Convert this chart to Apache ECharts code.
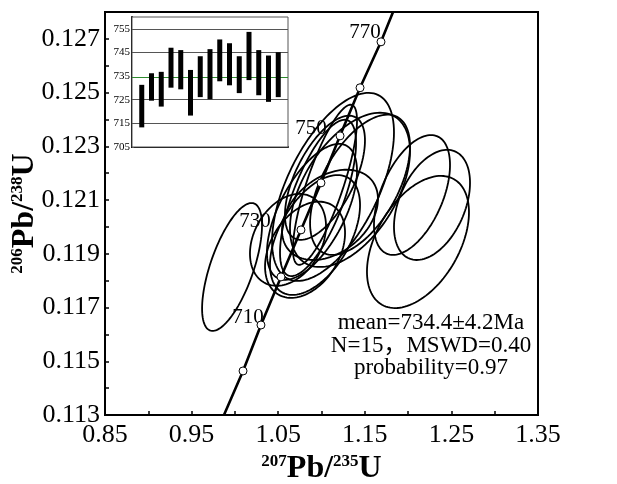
<!DOCTYPE html>
<html>
<head>
<meta charset="utf-8">
<script src="https://cdn.jsdelivr.net/npm/echarts@6/dist/echarts.min.js"></script>
<style>
  html, body { margin: 0; padding: 0; background: #fff; }
  #main { width: 617px; height: 484px; }
</style>
</head>
<body>
<div id="main"></div>
<script>
// concordia curve: marker ages and where they sit on the plot
const concordiaAges = [700, 710, 720, 730, 740, 750, 760, 770];
const concordiaX = [1.0094, 1.0301, 1.0532, 1.0763, 1.0994, 1.1214, 1.1445, 1.1687];
const concordiaY = [0.11464, 0.11635, 0.11814, 0.11989, 0.12164, 0.12339, 0.12518, 0.12689];
const concordiaStart = [0.9874, 0.113];
const concordiaEnd = [1.1826, 0.128];
const labelledAges = [710, 730, 750, 770];

// error ellipses (207Pb/235U, 206Pb/238U, sigma x, sigma y, rho)
const ellCx  = [0.9967, 1.0613, 1.1133, 1.1329, 1.1040, 1.0960, 1.1040, 1.0890, 1.1098, 1.0810, 1.1445, 1.2045, 1.2276, 1.2114, 1.0925];
const ellCy  = [0.11851, 0.11952, 0.12149, 0.12138, 0.12157, 0.12108, 0.12183, 0.12056, 0.12045, 0.11915, 0.12157, 0.12119, 0.12082, 0.11944, 0.11970];
const ellSx  = [0.0346, 0.0439, 0.0704, 0.0693, 0.0370, 0.0439, 0.0462, 0.0520, 0.0554, 0.0462, 0.0577, 0.0439, 0.0439, 0.0589, 0.0520];
const ellSy  = [0.00238, 0.00171, 0.00350, 0.00287, 0.00298, 0.00291, 0.00231, 0.00253, 0.00168, 0.00179, 0.00261, 0.00223, 0.00205, 0.00246, 0.00223];
const ellRho = [0.65, 0.3, 0.58, 0.5, 0.8, 0.7, 0.6, 0.6, 0.35, 0.35, 0.55, 0.5, 0.4, 0.45, 0.5];

// inset: 206Pb/238U age ranges of each spot (Ma)
const spotLow  = [713.3, 724.6, 722.1, 730.1, 729.4, 718.3, 726.1, 725.2, 732.8, 731.1, 727.8, 733.3, 726.9, 724.1, 726.1];
const spotHigh = [731.3, 736.2, 736.8, 747.0, 746.0, 737.6, 743.4, 746.4, 750.5, 748.9, 743.4, 753.7, 746.0, 743.7, 745.1];
const insetLines = [715, 725, 745, 755];
const meanAge = 734.4;

const resultLines = ['mean=734.4±4.2Ma', 'N=15，MSWD=0.40', 'probability=0.97'];

const serif = "'Liberation Serif', 'Noto Sans CJK SC', serif";

const chart = echarts.init(document.getElementById('main'));

const linePoints = [concordiaStart].concat(concordiaX.map((x, i) => [x, concordiaY[i]]), [concordiaEnd]);
const markerPoints = concordiaX.map((x, i) => [x, concordiaY[i], concordiaAges[i]]);
const labelOffsets = { 710: [-13, -8], 730: [-46, -8], 750: [-29, -7], 770: [-16, -9] };
const labelPoints = markerPoints
  .filter(p => labelledAges.indexOf(p[2]) >= 0)
  .map(p => ({ value: p, label: { offset: labelOffsets[p[2]] } }));

const ellipseData = ellCx.map((x, i) => [x, ellCy[i], ellSx[i], ellSy[i], ellRho[i]]);
const spotData = spotLow.map((lo, i) => [i + 1, lo, spotHigh[i]]);

const nameRich = {
  s: { fontSize: 17, fontFamily: serif, fontWeight: 'bold', color: '#000', verticalAlign: 'top' },
  m: { fontSize: 32, fontFamily: serif, fontWeight: 'bold', color: '#000' }
};

const option = {
  animation: false,
  grid: [
    { left: 105, top: 12, right: 79, bottom: 69, outerBoundsMode: 'none', show: true, borderColor: '#000', borderWidth: 2 },
    { left: 132, top: 17, width: 156, height: 130, outerBoundsMode: 'none', show: true, borderColor: '#555', borderWidth: 1, backgroundColor: '#fff', z: 5 }
  ],
  xAxis: [
    {
      type: 'value', gridIndex: 0, min: 0.85, max: 1.35, interval: 0.05,
      axisLine: { lineStyle: { color: '#000', width: 2 } },
      axisTick: { inside: true, length: 4, lineStyle: { color: '#000', width: 1.5 } },
      axisLabel: {
        margin: 7, fontSize: 26, fontFamily: serif, color: '#000',
        formatter: v => (Math.round((v - 0.85) / 0.05) % 2 === 0 ? v.toFixed(2) : '')
      },
      splitLine: { show: false },
      name: '{s|207}{m|Pb/}{s|235}{m|U}', nameLocation: 'middle', nameGap: 38,
      nameTextStyle: { rich: nameRich }
    },
    {
      type: 'value', gridIndex: 1, min: 0, max: 16,
      axisLine: { lineStyle: { color: '#000', width: 2 } },
      axisTick: { show: false }, axisLabel: { show: false }, splitLine: { show: false }
    }
  ],
  yAxis: [
    {
      type: 'value', gridIndex: 0, min: 0.113, max: 0.128, interval: 0.001,
      axisLine: { lineStyle: { color: '#000', width: 2 } },
      axisTick: { inside: true, length: 4, lineStyle: { color: '#000', width: 1.5 } },
      axisLabel: {
        margin: 5, fontSize: 26, fontFamily: serif, color: '#000',
        formatter: v => (Math.round(v * 1000) % 2 === 1 ? v.toFixed(3) : '')
      },
      splitLine: { show: false },
      name: '{s|206}{m|Pb/}{s|238}{m|U}', nameLocation: 'middle', nameRotate: 90, nameGap: 64,
      nameMoveOverlap: false,
      nameTextStyle: { rich: nameRich }
    },
    {
      type: 'value', gridIndex: 1, min: 705, max: 760, interval: 5,
      axisLine: { lineStyle: { color: '#000', width: 2 } },
      axisTick: { inside: true, length: 2, lineStyle: { color: '#555' } },
      axisLabel: {
        margin: 2, fontSize: 11, fontFamily: serif, color: '#000',
        formatter: v => ((Math.round(v) - 705) % 10 === 0 ? String(Math.round(v)) : '')
      },
      splitLine: { show: false }
    }
  ],
  graphic: resultLines.map((t, i) => ({
    type: 'text', x: 431, y: 323 + i * 22.5, z: 20,
    style: { text: t, align: 'center', verticalAlign: 'middle', font: '23px ' + serif, fill: '#000' }
  })),
  series: [
    {
      type: 'custom', xAxisIndex: 0, yAxisIndex: 0, clip: true, z: 2,
      data: ellipseData,
      encode: { x: 0, y: 1 },
      renderItem: function (params, api) {
        const cx = api.value(0), cy = api.value(1), sx = api.value(2), sy = api.value(3), r = api.value(4);
        const q = Math.sqrt(1 - r * r);
        const pts = [];
        for (let k = 0; k < 120; k++) {
          const t = k / 120 * Math.PI * 2;
          pts.push(api.coord([cx + sx * Math.cos(t), cy + sy * (r * Math.cos(t) + q * Math.sin(t))]));
        }
        return { type: 'polygon', shape: { points: pts }, style: { fill: 'none', stroke: '#000', lineWidth: 1.8 } };
      }
    },
    {
      type: 'line', xAxisIndex: 0, yAxisIndex: 0, data: linePoints, z: 4,
      showSymbol: false, lineStyle: { color: '#000', width: 2.6 }
    },
    {
      type: 'scatter', xAxisIndex: 0, yAxisIndex: 0, data: markerPoints, z: 5,
      symbol: 'circle', symbolSize: 8,
      itemStyle: { color: '#fff', borderColor: '#000', borderWidth: 1, opacity: 1 }
    },
    {
      type: 'scatter', xAxisIndex: 0, yAxisIndex: 0, data: labelPoints, z: 3,
      symbolSize: 0, itemStyle: { opacity: 1 },
      label: {
        show: true, position: 'inside', formatter: p => String(p.value[2]),
        fontSize: 21, fontFamily: serif, color: '#000'
      }
    },
    {
      type: 'custom', xAxisIndex: 1, yAxisIndex: 1, z: 6,
      data: spotData,
      encode: { x: 0, y: [1, 2] },
      renderItem: function (params, api) {
        const top = api.coord([api.value(0), api.value(2)]);
        const bot = api.coord([api.value(0), api.value(1)]);
        return { type: 'rect', shape: { x: top[0] - 2.5, y: top[1], width: 5, height: bot[1] - top[1] }, style: { fill: '#000' } };
      },
      markLine: {
        silent: true, symbol: 'none', label: { show: false },
        lineStyle: { color: '#555', width: 1, type: 'solid' },
        data: insetLines.map(v => ({ yAxis: v })).concat([{ yAxis: meanAge, lineStyle: { color: '#2e8b2e', width: 1 } }])
      }
    }
  ]
};

chart.setOption(option);
</script>
</body>
</html>
